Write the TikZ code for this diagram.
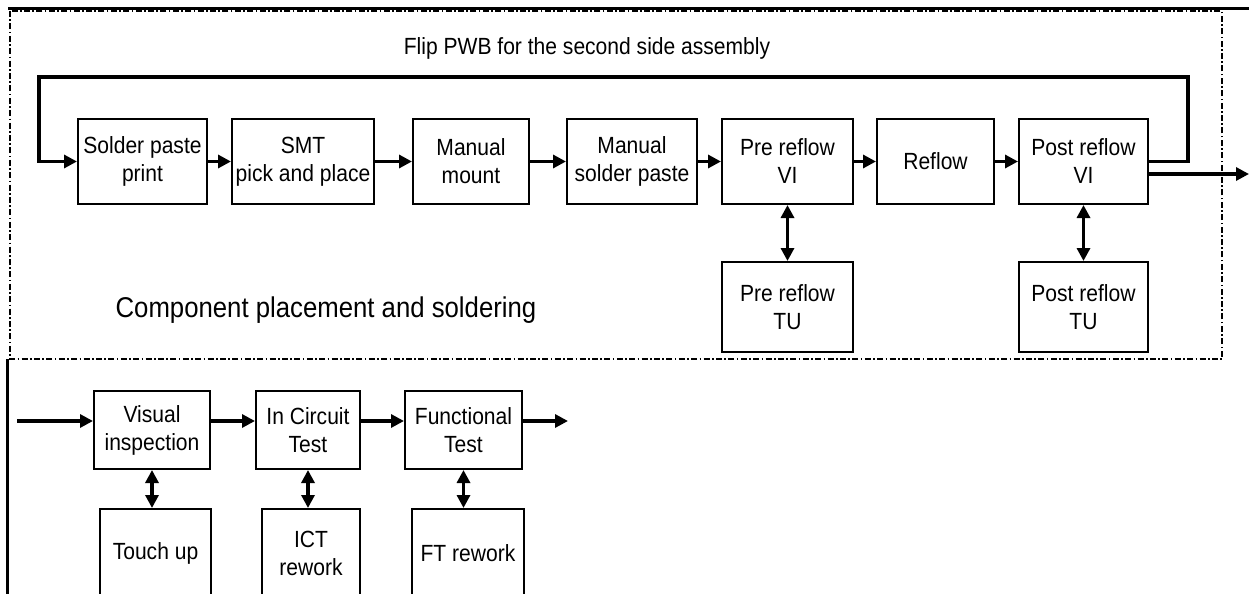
\documentclass[tikz,border=0pt]{standalone}
\usepackage{fontspec}
\setmainfont{Liberation Sans}[FakeStretch=0.9]
\usetikzlibrary{arrows.meta}
\tikzstyle{block}=[rectangle,draw=black,line width=1pt,align=center,inner sep=1pt,font=\fontsize{11.7}{14}\selectfont]
\tikzstyle{flow}=[draw,line width=1.6pt,-{Triangle[length=6.5pt,width=6.5pt]}]
\tikzstyle{both}=[draw,line width=1.6pt,{Triangle[length=6.5pt,width=6.5pt]}-{Triangle[length=6.5pt,width=6.5pt]}]
\tikzstyle{frame}=[line width=0.7pt,dash pattern=on 3pt off 1.2pt on 0.8pt off 1.2pt]

\begin{document}
\begin{tikzpicture}[x=0.5pt,y=-0.5pt]
  \useasboundingbox (0,0) rectangle (1249,594);
  \clip (0,0) rectangle (1249,594);

  % component placement and soldering
  \node[block,minimum width=64.5pt,minimum height=42.5pt] (sp) at (142.5,161.5) {Solder paste\\print};
  \node[block,minimum width=71pt,minimum height=42.5pt] (smt) at (303,161.5) {SMT\\pick and place};
  \node[block,minimum width=58pt,minimum height=42.5pt] (mm) at (471,161.5) {Manual\\mount};
  \node[block,minimum width=65pt,minimum height=42.5pt] (msp) at (632,161.5) {Manual\\solder paste};
  \node[block,minimum width=65.5pt,minimum height=42.5pt] (previ) at (787.5,161.5) {Pre reflow\\VI};
  \node[block,minimum width=58.5pt,minimum height=42.5pt] (reflow) at (935.5,161.5) {Reflow};
  \node[block,minimum width=64.5pt,minimum height=42.5pt] (postvi) at (1083.5,161.5) {Post reflow\\VI};
  \node[block,minimum width=65.5pt,minimum height=45pt] (pretu) at (787.5,307) {Pre reflow\\TU};
  \node[block,minimum width=64.5pt,minimum height=45pt] (posttu) at (1083.5,307) {Post reflow\\TU};

  \node[font=\fontsize{11.7}{14}\selectfont] (fliptxt) at (587,48) {Flip PWB for the second side assembly};
  \node[font=\fontsize{14.3}{16}\selectfont] (comptxt) at (326,310) {Component placement and soldering};

  % testing
  \node[block,minimum width=58pt,minimum height=39pt] (vis) at (152,430) {Visual\\inspection};
  \node[block,minimum width=52pt,minimum height=39pt] (ict) at (308,430) {In Circuit\\Test};
  \node[block,minimum width=58.5pt,minimum height=39pt] (func) at (463.5,430) {Functional\\Test};
  \node[block,minimum width=55.5pt,minimum height=44pt] (touch) at (155.5,553) {Touch up};
  \node[block,minimum width=49pt,minimum height=44pt] (ictrw) at (311,553) {ICT\\rework};
  \node[block,minimum width=56pt,minimum height=44pt] (ftrw) at (468,553) {FT rework};

  \coordinate (loopr) at (1188,77);
  \coordinate (loopl) at (39,77);
  \coordinate (out) at (1249,174);
  \coordinate (in) at (17,421);
  \coordinate (out2) at (568,421);

  \draw[flow] (sp) -- (smt);
  \draw[flow] (smt) -- (mm);
  \draw[flow] (mm) -- (msp);
  \draw[flow] (msp) -- (previ);
  \draw[flow] (previ) -- (reflow);
  \draw[flow] (reflow) -- (postvi);
  \draw[flow] (postvi.east) -| (loopr) -- (loopl) |- (sp.west);
  \draw[flow] (postvi.east |- out) -- (out);
  \draw[both] (previ) -- (pretu);
  \draw[both] (postvi) -- (posttu);

  \draw[flow] (in) -- (vis.west |- in);
  \draw[flow] (vis.east |- in) -- (ict.west |- in);
  \draw[flow] (ict.east |- in) -- (func.west |- in);
  \draw[flow] (func.east |- out2) -- (out2);
  \draw[both] (vis.south) -- (vis.south |- touch.north);
  \draw[both] (ict.south) -- (ict.south |- ictrw.north);
  \draw[both] (func.south) -- (func.south |- ftrw.north);

  % borders
  \draw[frame] (10,11) rectangle (1222,359);
  \draw[line width=1.5pt] (8,8) -- (1249,8);
  \draw[line width=1.5pt] (7,359) -- (7,594);
\end{tikzpicture}
\end{document}
